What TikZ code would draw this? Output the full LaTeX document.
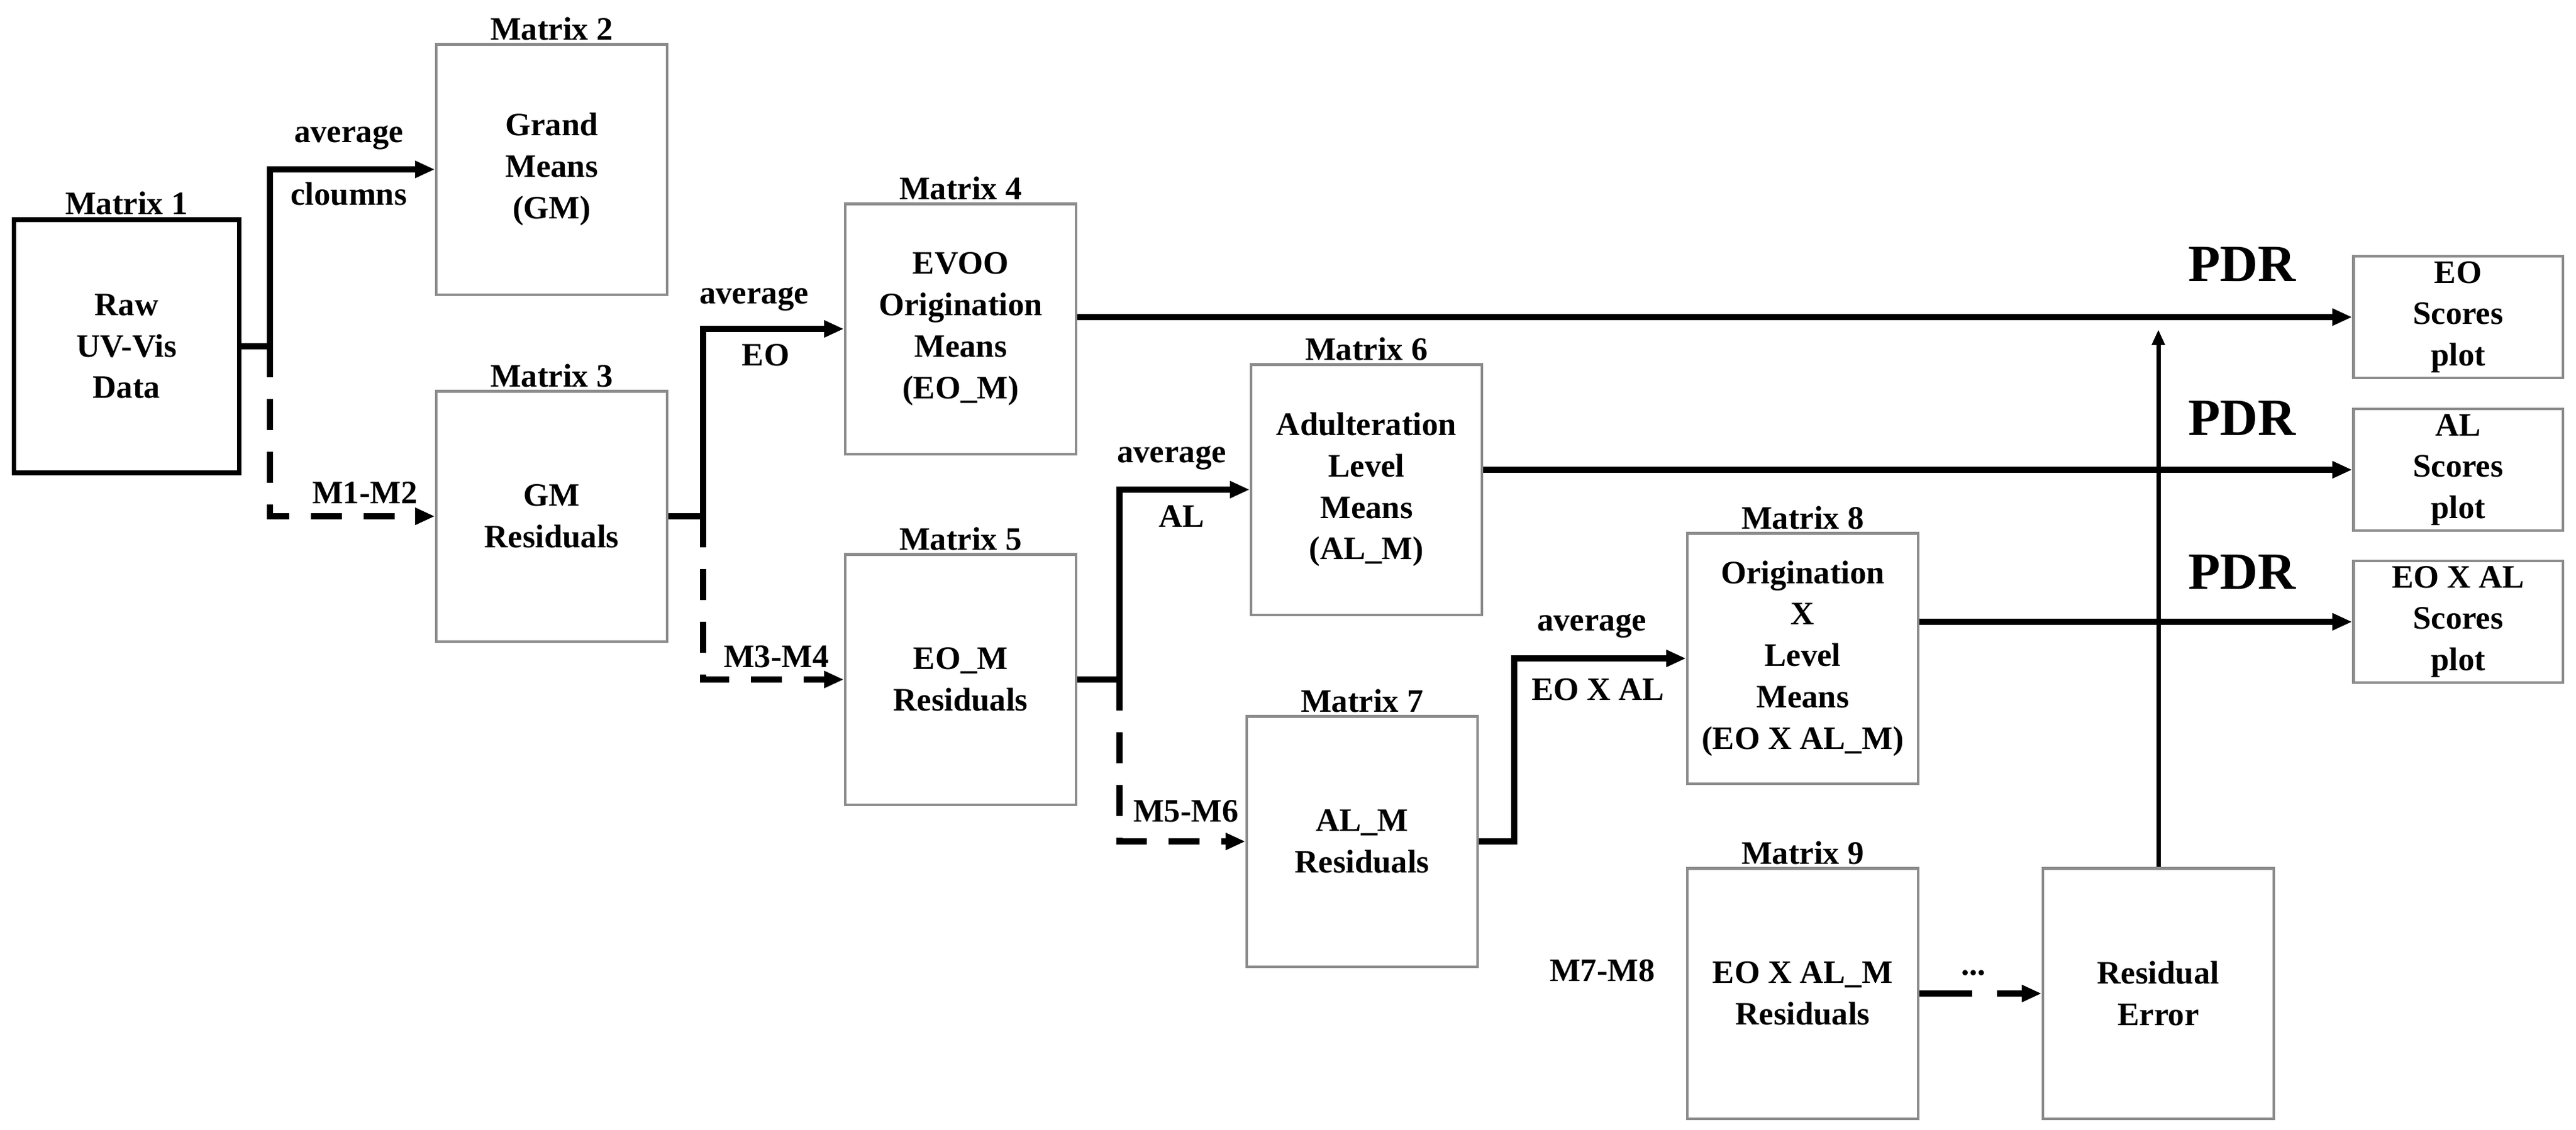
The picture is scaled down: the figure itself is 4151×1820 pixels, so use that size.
\documentclass[tikz,border=0pt]{standalone}
\usepackage{fontspec}
\setmainfont{Liberation Serif}
\usetikzlibrary{arrows.meta,positioning}

\begin{document}
\begin{tikzpicture}[x=0.01cm, y=-0.01cm,
        font=\fontsize{15}{19}\selectfont\bfseries,
        mat/.style={draw=black!45, line width=1.2pt, minimum width=3.72cm, minimum height=4.03cm, align=center, inner sep=0pt},
        scoreplot/.style={draw=black!45, line width=1.2pt, minimum width=3.37cm, minimum height=1.96cm, align=center, inner sep=0pt},
        lbl/.style={inner sep=1pt},
        flow/.style={line width=3pt, -{Triangle[length=0.32cm, width=0.26cm]}},
        dashflow/.style={flow, dash pattern=on 0.5cm off 0.35cm},
        pdr/.style={font=\fontsize{24}{28}\selectfont\bfseries}]
    \useasboundingbox (0,0) rectangle (4151,1820);
    % matrices
    \node[mat, draw=black, line width=2.2pt, minimum width=3.63cm, minimum height=4.08cm, label={[lbl]above:Matrix 1}] (m1) at (204,558) {Raw\\UV-Vis\\Data};
    \node[mat, label={[lbl]above:Matrix 2}] (m2) at (889,273) {Grand\\Means\\(GM)};
    \node[mat, label={[lbl]above:Matrix 3}] (m3) at (889,832) {GM\\Residuals};
    \node[mat, label={[lbl]above:Matrix 4}] (m4) at (1548,530) {EVOO\\Origination\\Means\\(EO\_M)};
    \node[mat, label={[lbl]above:Matrix 5}] (m5) at (1548,1095) {EO\_M\\Residuals};
    \node[mat, label={[lbl]above:Matrix 6}] (m6) at (2202,789) {Adulteration\\Level\\Means\\(AL\_M)};
    \node[mat, label={[lbl]above:Matrix 7}] (m7) at (2195,1356) {AL\_M\\Residuals};
    \node[mat, label={[lbl]above:Matrix 8}] (m8) at (2905,1061) {Origination\\X\\Level\\Means\\(EO X AL\_M)};
    \node[mat, label={[lbl]above:Matrix 9}] (m9) at (2905,1601) {EO X AL\_M\\Residuals};
    \node[mat] (res) at (3478,1601) {Residual\\Error};
    % score plots
    \node[scoreplot] (eo) at (3961,511) {EO\\Scores\\plot};
    \node[scoreplot] (al) at (3961,757) {AL\\Scores\\plot};
    \node[scoreplot] (eoal) at (3961,1002) {EO X AL\\Scores\\plot};

    \coordinate (j1) at (435,558);
    \coordinate (j2) at (1133,832);
    \coordinate (j3) at (1804,1095);
    \coordinate (j4) at (2440,1356);
    \coordinate (d9) at (3178,1601);

    \draw[flow] (m1.east) -- (j1) |- (m2.west);
    \draw[dashflow] (j1) |- (m3.west);
    \draw[flow] (m3.east) -- (j2) |- (m4.west);
    \draw[dashflow] (j2) |- (m5.west);
    \draw[flow] (m5.east) -- (j3) |- (m6.west);
    \draw[dashflow] (j3) |- (m7.west);
    \draw[flow] (m7.east) -- (j4) |- (m8.west);
    \draw[flow] (m4.east |- eo.west) -- (eo.west);
    \draw[flow] (m6.east |- al.west) -- (al.west);
    \draw[flow] (m8.east |- eoal.west) -- (eoal.west);
    \draw[line width=2pt, -{Triangle[length=0.25cm, width=0.2cm]}, shorten >=0.2cm] (res.north) -- (res.north |- eo.west);
    \draw[line width=3pt] (m9.east) -- (d9);
    \draw[flow] ([xshift=0.4cm]d9) -- (res.west);

    % edge labels
    \node at (562,222) {average};
    \node at (562,313) {cloumns};
    \node at (588,794) {M1-M2};
    \node at (1215,482) {average};
    \node at (1234,572) {EO};
    \node at (1251,1058) {M3-M4};
    \node at (1888,738) {average};
    \node at (1904,832) {AL};
    \node at (1911,1307) {M5-M6};
    \node at (2565,1009) {average};
    \node at (2575,1111) {EO X AL};
    \node at (2582,1564) {M7-M8};
    \node at (3180,1568) {...};
    \node[pdr] at (3613,426) {PDR};
    \node[pdr] at (3613,674) {PDR};
    \node[pdr] at (3613,922) {PDR};
\end{tikzpicture}
\end{document}
